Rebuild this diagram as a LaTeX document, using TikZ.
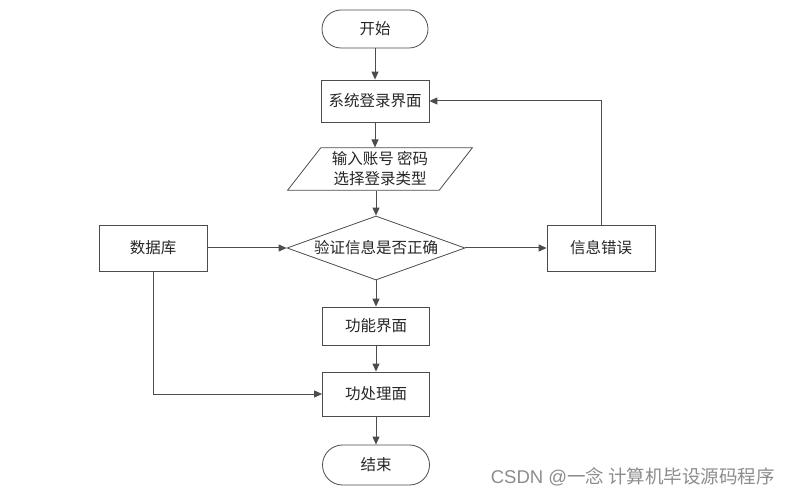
\documentclass[tikz,border=0pt]{standalone}
\usepackage{fontspec}
\setmainfont{Noto Sans CJK SC}
\newfontfamily\wmlatin{Liberation Sans}
\usetikzlibrary{shapes.geometric,arrows.meta}
\begin{document}
\begin{tikzpicture}[x=1pt,y=-1pt,
  every node/.style={font=\fontsize{15.5}{19}\selectfont, text=black!85},
  box/.style={draw=black!70, line width=0.8pt, minimum width=108pt, minimum height=42pt, inner sep=0pt},
  term/.style={draw=black!70, line width=0.8pt, rounded corners=19pt, minimum width=106pt, minimum height=38pt, inner sep=0pt},
  arr/.style={draw=black!70, line width=1pt, -{Triangle[length=8pt,width=7pt]}},
  ln/.style={draw=black!70, line width=1pt}]
\useasboundingbox (0,0) rectangle (788,497);
\node[term] (start) at (375,29) {开始};
\node[box] (login) at (375,101) {系统登录界面};
\node[draw=black!70, line width=0.8pt, trapezium, trapezium left angle=52, trapezium right angle=128, minimum width=185pt, minimum height=38pt, inner sep=0pt, align=center, font=\fontsize{15.5}{20}\selectfont] (input) at (380,169) {输入账号 密码\\选择登录类型};
\node[draw=black!70, line width=0.8pt, diamond, aspect=2.8, minimum width=178pt, minimum height=64pt, inner sep=0pt] (check) at (376,248) {验证信息是否正确};
\node[box, minimum height=46pt] (db) at (153,248) {数据库};
\node[box, minimum height=46pt] (err) at (601,248) {信息错误};
\node[box, minimum width=107pt, minimum height=38pt] (func) at (376,326) {功能界面};
\node[box, minimum width=107pt, minimum height=44pt] (proc) at (376,394) {功处理面};
\node[term, minimum width=107pt, minimum height=40pt, rounded corners=20pt] (end) at (376,465) {结束};
\node[text=black!45, font=\fontsize{18.5}{22}\selectfont, anchor=east, inner sep=0pt] (wm) at (775,477) {{\wmlatin CSDN @}一念 计算机毕设源码程序};
\draw[arr] (start.south) -- (login.north);
\draw[arr] (login.south) -- (login.south |- input.north);
\draw[arr] (input.south -| check.north) -- (check.north);
\draw[arr] (db.east) -- (check.west);
\draw[arr] (check.east) -- (err.west);
\draw[arr] (check.south) -- (func.north);
\draw[arr] (func.south) -- (proc.north);
\draw[arr] (proc.south) -- (end.north);
\draw[arr] (db.south) |- (proc.west);
\draw[arr] (err.north) |- (login.east);
\end{tikzpicture}
\end{document}
